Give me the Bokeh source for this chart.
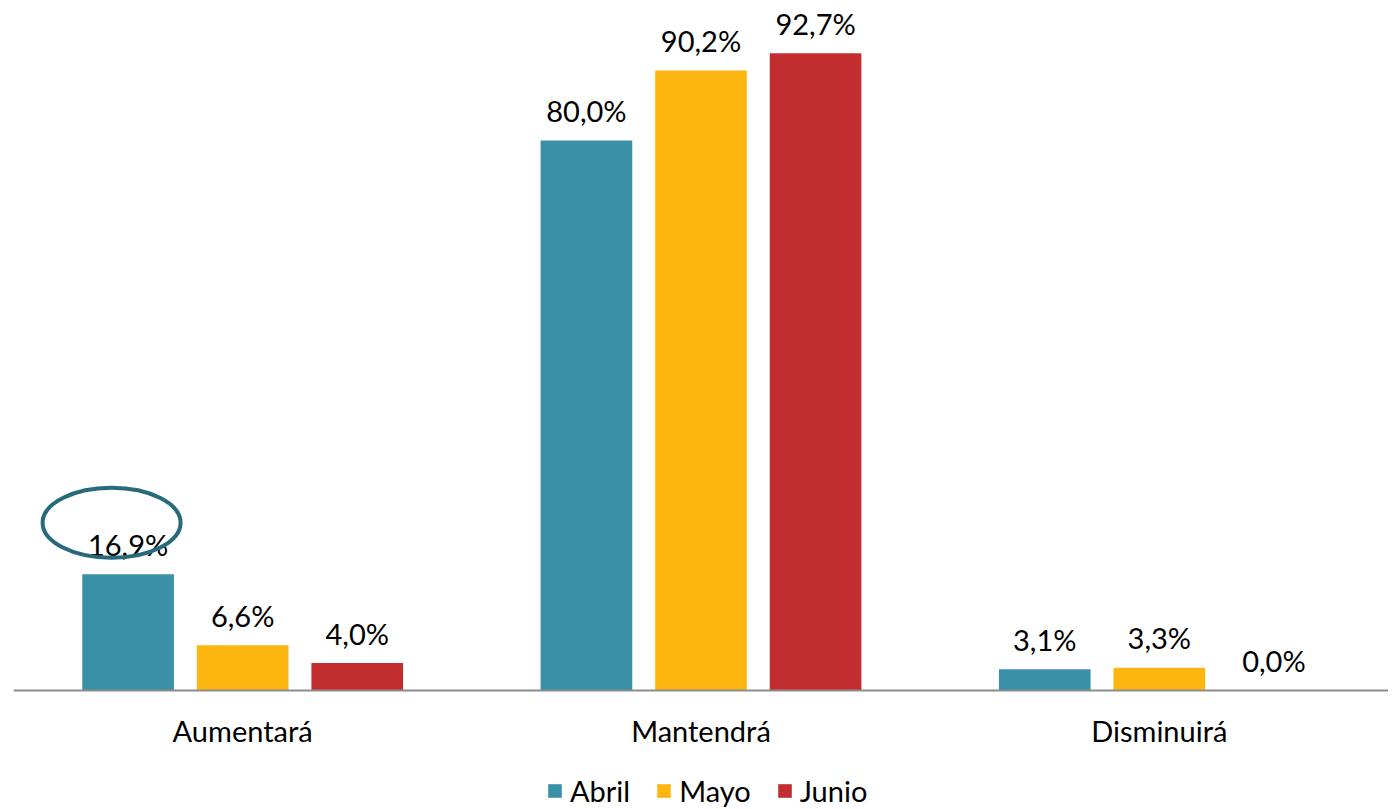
from bokeh.plotting import figure
from bokeh.models import ColumnDataSource, FactorRange, Range1d, Legend, LegendItem
from bokeh.transform import dodge
from bokeh.core.properties import value
from bokeh.embed import file_html
from bokeh.resources import INLINE

categories = ["Aumentará", "Mantendrá", "Disminuirá"]
series = ["Abril", "Mayo", "Junio"]
abril = [16.9, 80.0, 3.1]
mayo = [6.6, 90.2, 3.3]
junio = [4.0, 92.7, 0.0]
colors = ["#3a90a7", "#fdb60f", "#c22d2f"]

FONT = "Lato"
FS = "29px"

def fmt(v):
    return f"{v:.1f}".replace(".", ",") + "%"

data = {"cat": categories, "Abril": abril, "Mayo": mayo, "Junio": junio}
for s in series:
    data[s + "_lbl"] = [fmt(v) for v in data[s]]
src = ColumnDataSource(data)

# frame spans the whole height; the value axis sits at 0 with room below for labels + legend
PX_PER_UNIT = 6.875
FRAME_H = 800
TOP = 99.2
p = figure(x_range=FactorRange(*categories, range_padding=0),
           y_range=Range1d(TOP - FRAME_H / PX_PER_UNIT, TOP),
           frame_width=1375, frame_height=FRAME_H, output_backend="svg", toolbar_location=None,
           min_border_left=13, min_border_right=0, min_border_top=8, min_border_bottom=0)
p.outline_line_color = None
p.grid.visible = False
p.yaxis.visible = False

offsets = [-0.25, 0.0, 0.25]
items = []
for s, off, c in zip(series, offsets, colors):
    r = p.vbar(x=dodge("cat", off, range=p.x_range), top=s, bottom=0, width=0.2, source=src,
               fill_color=c, line_color=None)
    items.append(LegendItem(label=s, renderers=[r]))
    p.text(x=dodge("cat", off, range=p.x_range), y=s, text=s + "_lbl", source=src,
           text_align="center", text_baseline="middle", y_offset=-30,
           text_font=value(FONT), text_font_size=FS, text_color="#000000")

# highlight ellipse around the first label
p.ellipse(x=dodge("x", -0.286, range=p.x_range), y="y",
          source=ColumnDataSource({"x": ["Aumentará"], "y": [24.4]}),
          width=138, height=70, width_units="screen", height_units="screen",
          fill_color=None, line_color="#276a7c", line_width=4)

ax = p.xaxis[0]
ax.fixed_location = 0
ax.axis_line_color = "#8c8c8c"
ax.axis_line_width = 2
ax.major_tick_line_color = None
ax.minor_tick_line_color = None
ax.major_label_text_font = FONT
ax.major_label_text_font_size = FS
ax.major_label_text_color = "#000000"
ax.major_label_standoff = 16

legend = Legend(items=items, orientation="horizontal", location=(533, 0),
                label_text_font=FONT, label_text_font_size=FS, label_text_color="#000000",
                glyph_width=17, glyph_height=17, label_height=17, spacing=25, label_standoff=7,
                border_line_color=None, background_fill_alpha=0, margin=0, padding=0)
p.add_layout(legend, "center")

open("out.html", "w").write(file_html(p, INLINE))
